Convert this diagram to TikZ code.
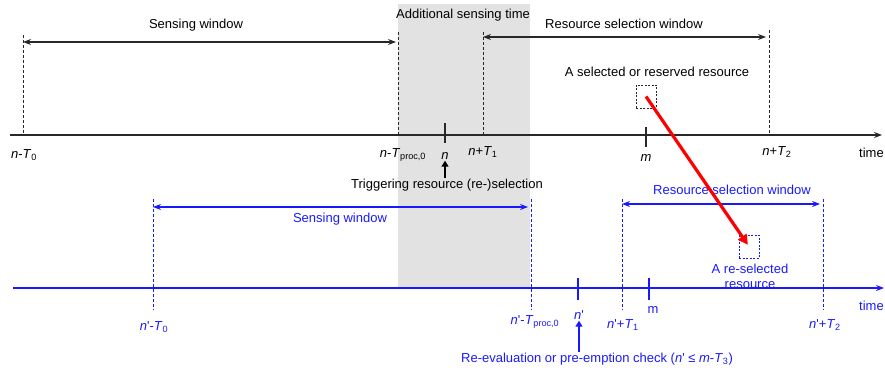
\documentclass[tikz,border=0pt]{standalone}
\usepackage{fontspec}
\setmainfont{Liberation Sans}
\usetikzlibrary{arrows.meta}
\definecolor{tlblue}{RGB}{25,25,255}
\definecolor{sensegray}{RGB}{226,226,226}
\definecolor{axisgray}{RGB}{40,40,40}
\newcommand{\ii}[1]{\textit{#1}}
\newcommand{\prm}{\textquotesingle}
\begin{document}
\begin{tikzpicture}[x=1pt,y=-1pt,font=\fontsize{13}{15}\selectfont,
    axis/.style={line width=1.2pt,-{Stealth[length=8pt,width=6pt]}},
    guide/.style={dash pattern=on 3pt off 2pt,line width=0.9pt},
    span/.style={line width=1.1pt,{Stealth[length=8pt,width=6pt]}-{Stealth[length=8pt,width=6pt]}},
    tickline/.style={line width=1.2pt},
    trig/.style={line width=2pt,-{Triangle[length=6pt,width=7pt]}},
    resbox/.style={draw,dash pattern=on 2pt off 1.5pt,line width=0.9pt,
        minimum width=20pt,minimum height=23pt,inner sep=0pt},
    lbl/.style={inner sep=1pt}]
    \def\topy{135}
    \def\boty{288}

    \useasboundingbox (0,0) rectangle (885,371);
    \fill[sensegray] (398,4) rectangle (530,\boty);
    \node[lbl] (addl) at (463,15) {Additional sensing time};

    % upper time line
    \coordinate (tl0) at (10,\topy);
    \coordinate (tl1) at (882,\topy);
    \draw[axis,axisgray] (tl0) -- (tl1);
    \node[lbl,anchor=west] (ttime) at (858,153) {time};

    \foreach \nm/\x/\t in {sw0/23/35,sw1/398/32,rw0/483/32,rw1/769/30}{
        \coordinate (\nm-t) at (\x,\t);
        \coordinate (\nm-b) at (\x,\topy);
        \draw[guide,axisgray] (\nm-t) -- (\nm-b);
    }
    \draw[span,axisgray] (sw0-b |- 0,42) -- ([xshift=-2pt]sw1-b |- 0,42);
    \node[lbl] (swlbl) at (196,25) {Sensing window};
    \draw[span,axisgray] (rw0-b |- 0,37) -- ([xshift=-3pt]rw1-b |- 0,37);
    \node[lbl] (rwlbl) at (624,24) {Resource selection window};

    \coordinate (nt) at (445,\topy);
    \coordinate (mt) at (646,\topy);
    \draw[tickline,axisgray] ([yshift=12pt]nt) -- ([yshift=-8pt]nt);
    \draw[tickline,axisgray] ([yshift=8pt]mt) -- ([yshift=-12pt]mt);

    \node[lbl] (nT0) at (24,155) {\ii{n}-\ii{T}\textsubscript{0}};
    \node[lbl] (nTp) at (403,155) {\ii{n}-\ii{T}\textsubscript{proc,0}};
    \node[lbl] (nn) at (445,156) {\ii{n}};
    \node[lbl] (nT1) at (483,152) {\ii{n}+\ii{T}\textsubscript{1}};
    \node[lbl] (mm) at (646,158) {\ii{m}};
    \node[lbl] (nT2) at (777,152) {\ii{n}+\ii{T}\textsubscript{2}};
    \node[lbl] (trig) at (447,185) {Triggering resource (re-)selection};
    \draw[trig,black] (trig.north -| nn) -- (nn.south);

    \node[lbl] (sellbl) at (657,72) {A selected or reserved resource};
    \node[resbox,axisgray] (selbox) at (646,96.5) {};

    % lower time line
    \begin{scope}[tlblue]
    \coordinate (bl0) at (13,\boty);
    \coordinate (bl1) at (884,\boty);
    \draw[axis] (bl0) -- (bl1);
    \node[lbl,anchor=west] (btime) at (858,306) {time};

    \foreach \nm/\x in {bs0/153,bs1/531,br0/622,br1/823}{
        \coordinate (\nm-t) at (\x,199);
        \coordinate (\nm-b) at (\x,310);
        \draw[guide] (\nm-t) -- (\nm-b);
    }
    \draw[span] (bs0-b |- 0,207) -- ([xshift=-3pt]bs1-b |- 0,207);
    \node[lbl] (bswlbl) at (340,219) {Sensing window};
    \draw[span] (br0-b |- 0,204) -- ([xshift=-3pt]br1-b |- 0,204);
    \node[lbl] (brwlbl) at (732,190) {Resource selection window};

    \coordinate (npt) at (578,\boty);
    \coordinate (bmt) at (649,\boty);
    \draw[tickline] ([yshift=10pt]npt) -- ([yshift=-12pt]npt);
    \draw[tickline] ([yshift=10pt]bmt) -- ([yshift=-12pt]bmt);

    \node[lbl] (npT0) at (154,327) {\ii{n}\prm-\ii{T}\textsubscript{0}};
    \node[lbl] (npTp) at (535,322) {\ii{n}\prm-\ii{T}\textsubscript{proc,0}};
    \node[lbl] (np) at (579,315) {\ii{n}\prm};
    \node[lbl] (npT1) at (623,325) {\ii{n}\prm+\ii{T}\textsubscript{1}};
    \node[lbl] (bm) at (653,310) {m};
    \node[lbl] (npT2) at (825,325) {\ii{n}\prm+\ii{T}\textsubscript{2}};
    \node[lbl] (reeval) at (597,359)
        {Re-evaluation or pre-emption check (\ii{n}\prm{} ≤ \ii{m}-\ii{T}\textsubscript{3})};
    \draw[trig] (reeval.north -| np) -- (np.south);

    \node[resbox] (reselbox) at (749,246.5) {};
    \node[lbl,align=center] (resellbl) at (750,276) {A re-selected\\resource};
    \end{scope}

    \draw[red,line width=3.2pt,-{Triangle[length=10pt,width=10pt]},shorten >=2pt]
        (selbox.center) -- (reselbox.center);
\end{tikzpicture}
\end{document}
